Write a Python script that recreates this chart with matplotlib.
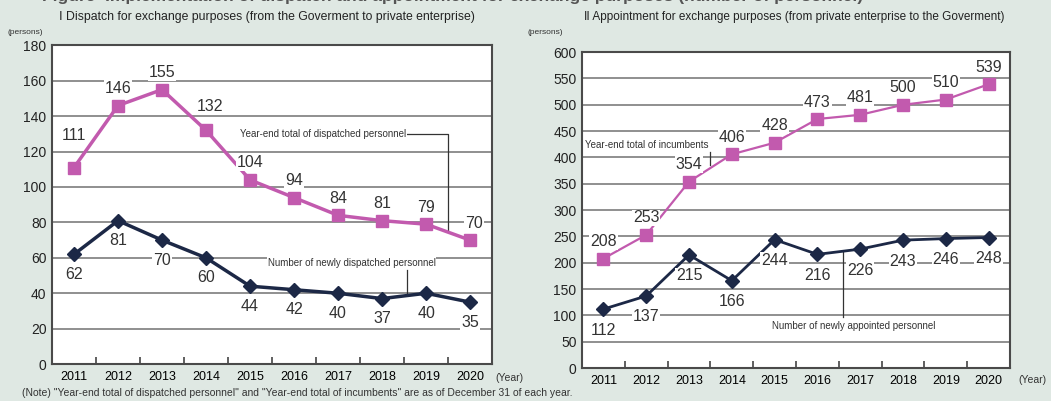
import matplotlib
matplotlib.use('Agg')
import matplotlib.pyplot as plt

plt.rcParams['font.family'] = ['Liberation Sans', 'DejaVu Sans']

years = ['2011', '2012', '2013', '2014', '2015', '2016', '2017', '2018', '2019', '2020']

# I  Dispatch (Government -> private enterprise)
dispatched_total = [111, 146, 155, 132, 104, 94, 84, 81, 79, 70]
dispatched_new = [62, 81, 70, 60, 44, 42, 40, 37, 40, 35]

# II Appointment (private enterprise -> Government)
incumbents_total = [208, 253, 354, 406, 428, 473, 481, 500, 510, 539]
appointed_new = [112, 137, 215, 166, 244, 216, 226, 243, 246, 248]

BG = '#dfe8e3'
PINK = '#c25aae'
NAVY = '#1c2846'
GRID = '#8f8f8f'

fig = plt.figure(figsize=(10.51, 4.01), dpi=100, facecolor=BG)
ax1 = fig.add_axes([0.0495, 0.092, 0.4187, 0.795])
ax2 = fig.add_axes([0.5538, 0.082, 0.4072, 0.788])

x = list(range(len(years)))


def style(ax, ymax, step):
    ax.set_facecolor('white')
    ax.set_xlim(-0.5, len(years) - 0.5)
    ax.set_ylim(0, ymax)
    ax.set_yticks(range(0, ymax + 1, step))
    ax.set_xticks(x)
    ax.set_xticklabels(years, fontsize=9)
    ax.set_xticks([i + 0.5 for i in x[:-1]], minor=True)
    ax.tick_params(axis='x', which='major', length=0, pad=5)
    ax.tick_params(axis='x', which='minor', direction='in', length=5, width=1.2, color='#444')
    ax.tick_params(axis='y', length=0, labelsize=10, pad=4, labelcolor='#222')
    ax.grid(axis='y', color=GRID, lw=1.4)
    ax.set_axisbelow(True)
    for s in ax.spines.values():
        s.set_color('#4a4a4a')
        s.set_linewidth(1.5)


def labels(ax, vals, dy, special=None):
    special = special or {}
    for i, v in enumerate(vals):
        ox, oy = special.get(i, (0, dy))
        ax.annotate(str(v), (i, v), xytext=(ox, oy), textcoords='offset pixels',
                    ha='center', va='center', fontsize=11.5, color='#333',
                    bbox=dict(boxstyle='square,pad=0.05', fc='white', ec='none'))


def note(ax, xv, yv, s):
    ax.text(xv, yv, s, fontsize=7, va='center', color='#333',
            bbox=dict(boxstyle='square,pad=0.1', fc='white', ec='none'))


# left chart
style(ax1, 180, 20)
ax1.plot(x, dispatched_total, color=PINK, lw=2.5, marker='s', ms=8, zorder=3)
ax1.plot(x, dispatched_new, color=NAVY, lw=2.5, marker='D', ms=7, zorder=3)
labels(ax1, dispatched_total, 17, {0: (0, 32), 3: (4, 24), 9: (4, 17)})
labels(ax1, dispatched_new, -20)
note(ax1, 3.77, 130, 'Year-end total of dispatched personnel')
ax1.plot([7.55, 8.5, 8.5], [130, 130, 75], color='#333', lw=0.9)
note(ax1, 4.4, 57, 'Number of newly dispatched personnel')
ax1.plot([7.57, 7.57], [53, 40], color='#333', lw=0.9)

# right chart
style(ax2, 600, 50)
ax2.plot(x, incumbents_total, color=PINK, lw=1.6, marker='s', ms=8, zorder=3)
ax2.plot(x, appointed_new, color=NAVY, lw=2.0, marker='D', ms=7, zorder=3)
labels(ax2, incumbents_total, 17)
labels(ax2, appointed_new, -21)
note(ax2, -0.42, 423, 'Year-end total of incumbents')
ax2.plot([2.5, 2.5], [410, 385], color='#333', lw=0.9)
note(ax2, 3.95, 80, 'Number of newly appointed personnel')
ax2.plot([5.6, 5.6], [220, 97], color='#333', lw=0.9)

# titles and captions
fig.text(0.04, 1 - 1 / 401, 'Figure  Implementation of dispatch and appointment for exchange purposes (number of personnel)',
         fontsize=12.5, fontweight='bold', va='baseline', color='#555')
fig.text(0.056, 1 - 17 / 401, 'Ⅰ Dispatch for exchange purposes (from the Goverment to private enterprise)',
         fontsize=8.8, va='center', color='#222')
fig.text(0.556, 1 - 17 / 401, 'Ⅱ Appointment for exchange purposes (from private enterprise to the Goverment)',
         fontsize=8.5, va='center', color='#222')
fig.text(8 / 1051, 1 - 32 / 401, '(persons)', fontsize=6, va='center', color='#333')
fig.text(527 / 1051, 1 - 33 / 401, '(persons)', fontsize=6, va='center', color='#333')
fig.text(495 / 1051, 1 - 378 / 401, '(Year)', fontsize=7.5, va='center', color='#333')
fig.text(1018 / 1051, 1 - 380 / 401, '(Year)', fontsize=7.5, va='center', color='#333')
fig.text(22 / 1051, 1 - 393 / 401,
         '(Note) "Year-end total of dispatched personnel" and "Year-end total of incumbents" are as of December 31 of each year.',
         fontsize=7.5, va='center', color='#333')

fig.savefig('out.png', dpi=100, facecolor=BG)
